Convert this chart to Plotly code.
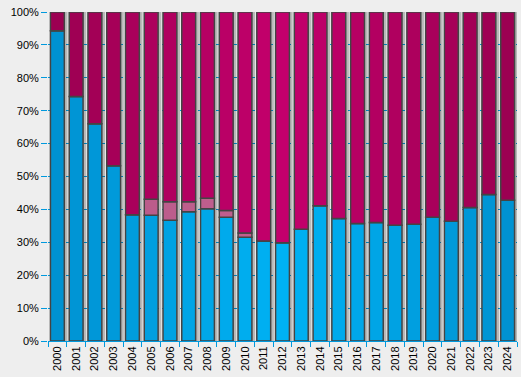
import plotly.graph_objects as go

years = [str(y) for y in range(2000, 2025)]
blue = [94.3, 74.3, 66.0, 53.3, 38.4, 38.2, 36.7, 39.3, 40.2, 37.6, 31.5, 30.4, 29.9,
        34.0, 41.1, 37.2, 35.7, 36.0, 35.2, 35.5, 37.6, 36.4, 40.6, 44.5, 42.8]
other = [0, 0, 0, 0, 0, 4.9, 5.6, 3.0, 3.2, 2.1, 1.3, 0, 0,
         0, 0, 0, 0, 0, 0, 0, 0, 0, 0, 0, 0]
magenta = [5.7, 25.7, 34.0, 46.7, 61.6, 56.9, 57.7, 57.7, 56.6, 60.3, 67.2, 69.6, 70.1,
           66.0, 58.9, 62.8, 64.3, 64.0, 64.8, 64.5, 62.4, 63.6, 59.4, 55.5, 57.2]
ytick_vals = list(range(0, 101, 10))
ytick_text = [f"{v}%" for v in ytick_vals]

n = len(years)


def grad(edge, center):
    cols = []
    for i in range(n):
        t = 1 - abs(i - (n - 1) / 2) / ((n - 1) / 2)
        c = [round(e + (m - e) * t) for e, m in zip(edge, center)]
        cols.append(f"rgb({c[0]},{c[1]},{c[2]})")
    return cols


blue_cols = grad((0, 146, 210), (0, 178, 244))
mag_cols = grad((156, 0, 82), (196, 0, 108))
oth_cols = grad((180, 90, 135), (196, 96, 144))

base_other = [b for b in blue]
base_mag = [b + o for b, o in zip(blue, other)]
total = [b + o + m for b, o, m in zip(blue, other, magenta)]

W = 0.74
OFF = -0.37
line = dict(color="#444444", width=1.5)

fig = go.Figure()
fig.add_trace(go.Bar(x=years, y=total, base=[0] * n, width=W, offset=OFF + 0.17,
                     marker=dict(color="rgba(0,0,0,0.22)", line=dict(width=0)),
                     hoverinfo="skip", showlegend=False))
fig.add_trace(go.Bar(x=years, y=blue, base=[0] * n, width=W, offset=OFF,
                     marker=dict(color=blue_cols, line=line), showlegend=False))
fig.add_trace(go.Bar(x=years, y=other, base=base_other, width=W, offset=OFF,
                     marker=dict(color=oth_cols, line=line), showlegend=False))
fig.add_trace(go.Bar(x=years, y=magenta, base=base_mag, width=W, offset=OFF,
                     marker=dict(color=mag_cols, line=line), showlegend=False))

fig.update_layout(
    barmode="overlay",
    width=521, height=377,
    margin=dict(l=48, r=4, t=12, b=36, autoexpand=False),
    paper_bgcolor="#eeeeee", plot_bgcolor="#eeeeee",
    font=dict(family="Arial", size=11, color="#000000"),
)
fig.update_xaxes(type="category", range=[-0.5, n - 0.5], tickangle=-90,
                 ticks="outside", tickson="boundaries", ticklen=5, tickcolor="#0099dd",
                 showgrid=False, showline=True, linecolor="#0099dd", linewidth=1,
                 zeroline=False, automargin=False)
fig.update_yaxes(range=[0, 100], tickvals=ytick_vals, ticktext=ytick_text,
                 ticks="outside", ticklen=6, tickcolor="#0099dd",
                 showgrid=True, gridcolor="#0099dd", gridwidth=1, griddash="3px,3px",
                 showline=False, zeroline=False, fixedrange=True, automargin=False)

fig.write_html("out.html",
               post_script="document.body.style.margin='0';document.body.style.background='#eeeeee';",
               config={"displayModeBar": False})
